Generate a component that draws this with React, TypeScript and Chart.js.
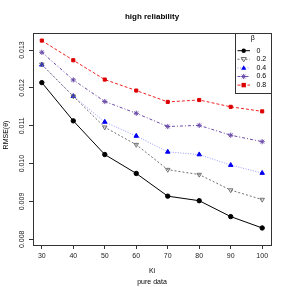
import React, { useEffect, useRef } from "react";
import { Chart, registerables } from "chart.js";

Chart.register(...registerables);

const kiValues = [30, 40, 50, 60, 70, 80, 90, 100];
const betaLabels = ["0", "0.2", "0.4", "0.6", "0.8"];
const beta0 = [0.01214, 0.01113, 0.01024, 0.00974, 0.00914, 0.00902, 0.0086, 0.0083];
const beta02 = [0.01262, 0.01178, 0.01096, 0.0105, 0.00984, 0.00971, 0.0093, 0.00905];
const beta04 = [0.01261, 0.01178, 0.0111, 0.01073, 0.01031, 0.01024, 0.00996, 0.00975];
const beta06 = [0.01294, 0.01221, 0.01164, 0.01133, 0.01098, 0.01101, 0.01075, 0.01058];
const beta08 = [0.01325, 0.01273, 0.01222, 0.01193, 0.01163, 0.01168, 0.0115, 0.01138];
const xTicks = [30, 40, 50, 60, 70, 80, 90, 100];
const yTicks = [0.008, 0.009, 0.01, 0.011, 0.012, 0.013];
const titleText = "high reliability";
const xTitle = "Ki";
const xSubTitle = "pure data";
const yTitle = "RMSE(\u03b8)";
const legendTitle = "\u03b2";

const FONT = "'Liberation Sans', Arial, Helvetica, sans-serif";

type Style = {
  color: string;
  lineColor: string;
  dash: number[];
  pointStyle: any;
  fill: boolean;
  radius: number;
  rotation?: number;
};

const styles: Style[] = [
  { color: "#000000", lineColor: "#000000", dash: [], pointStyle: "circle", fill: true, radius: 2.2 },
  { color: "#707070", lineColor: "#707070", dash: [2, 2], pointStyle: "triangle", fill: false, radius: 2.6, rotation: 180 },
  { color: "#0000ee", lineColor: "#9999ff", dash: [1, 1.5], pointStyle: "triangle", fill: true, radius: 2.6 },
  { color: "#6a4aa8", lineColor: "#6a4aa8", dash: [3, 2, 1, 2], pointStyle: "star", fill: true, radius: 2.6 },
  { color: "#dd0000", lineColor: "#ee2222", dash: [3, 2], pointStyle: "rect", fill: true, radius: 2.2 },
];

const seriesData = [beta0, beta02, beta04, beta06, beta08];

function drawMarker(ctx: CanvasRenderingContext2D, s: Style, x: number, y: number) {
  ctx.save();
  ctx.setLineDash([]);
  ctx.fillStyle = s.color;
  ctx.strokeStyle = s.color;
  ctx.lineWidth = 1;
  const r = s.radius;
  if (s.pointStyle === "circle") {
    ctx.beginPath();
    ctx.arc(x, y, r, 0, Math.PI * 2);
    ctx.fill();
  } else if (s.pointStyle === "rect") {
    ctx.fillRect(x - r, y - r, 2 * r, 2 * r);
  } else if (s.pointStyle === "triangle") {
    const dir = s.rotation === 180 ? -1 : 1;
    ctx.beginPath();
    ctx.moveTo(x, y - dir * r);
    ctx.lineTo(x + r, y + dir * r * 0.7);
    ctx.lineTo(x - r, y + dir * r * 0.7);
    ctx.closePath();
    if (s.fill) ctx.fill();
    else ctx.stroke();
  } else if (s.pointStyle === "star") {
    ctx.beginPath();
    for (let i = 0; i < 4; i++) {
      const a = (i * Math.PI) / 4;
      ctx.moveTo(x + Math.cos(a) * r, y + Math.sin(a) * r);
      ctx.lineTo(x - Math.cos(a) * r, y - Math.sin(a) * r);
    }
    ctx.stroke();
  }
  ctx.restore();
}

const decorPlugin = {
  id: "decor",
  afterDraw(chart: any) {
    const ctx: CanvasRenderingContext2D = chart.ctx;
    const a = chart.chartArea;
    const yScale = chart.scales.y;
    ctx.save();
    // box
    ctx.strokeStyle = "#333333";
    ctx.lineWidth = 1;
    ctx.strokeRect(Math.round(a.left) + 0.5, Math.round(a.top) + 0.5, Math.round(a.right - a.left), Math.round(a.bottom - a.top));
    // title
    ctx.fillStyle = "#000000";
    ctx.font = `bold 8px ${FONT}`;
    ctx.textAlign = "center";
    ctx.textBaseline = "middle";
    ctx.fillText(titleText, (a.left + a.right) / 2, 16.5);
    // x titles
    ctx.font = `7px ${FONT}`;
    ctx.fillText(xTitle, (a.left + a.right) / 2, 271);
    ctx.fillText(xSubTitle, (a.left + a.right) / 2, 282);
    // y tick labels (rotated)
    ctx.fillStyle = "#222222";
    for (const v of yTicks) {
      const py = yScale.getPixelForValue(v);
      ctx.save();
      ctx.translate(22, py);
      ctx.rotate(-Math.PI / 2);
      ctx.fillText(v.toFixed(3), 0, 0);
      ctx.restore();
    }
    // y title
    ctx.fillStyle = "#000000";
    ctx.save();
    ctx.translate(6, (a.top + a.bottom) / 2 - 4);
    ctx.rotate(-Math.PI / 2);
    ctx.fillText(yTitle, 0, 0);
    ctx.restore();
    // legend
    const lx = 235;
    const ly = a.top;
    const lw = Math.round(a.right) - lx;
    const lh = 60;
    ctx.fillStyle = "#ffffff";
    ctx.fillRect(lx, ly, lw, lh);
    ctx.strokeStyle = "#333333";
    ctx.strokeRect(lx + 0.5, Math.round(ly) + 0.5, lw, lh);
    ctx.fillStyle = "#000000";
    ctx.font = `7px ${FONT}`;
    ctx.textAlign = "center";
    ctx.fillText(legendTitle, 252.7, 38);
    betaLabels.forEach((lab, i) => {
      const y = 50.7 + i * 8.6;
      const s = styles[i];
      ctx.save();
      ctx.strokeStyle = s.lineColor;
      ctx.lineWidth = 1;
      ctx.setLineDash(s.dash);
      ctx.beginPath();
      ctx.moveTo(237.5, y);
      ctx.lineTo(250, y);
      ctx.stroke();
      ctx.restore();
      drawMarker(ctx, s, 243.7, y);
      ctx.fillStyle = "#000000";
      ctx.textAlign = "left";
      ctx.fillText(lab, 256.5, y);
    });
    ctx.restore();
  },
};

export default function App() {
  const ref = useRef<HTMLCanvasElement>(null);
  useEffect(() => {
    document.body.style.margin = "0";
    const canvas = ref.current!;
    const datasets = seriesData.map((vals, i) => {
      const s = styles[i];
      return {
        label: betaLabels[i],
        data: kiValues.map((k, j) => ({ x: k, y: vals[j] })),
        borderColor: s.lineColor,
        borderWidth: 1,
        borderDash: s.dash,
        pointStyle: s.pointStyle,
        pointRotation: s.rotation ?? 0,
        pointRadius: s.radius,
        pointBackgroundColor: s.fill ? s.color : "rgba(0,0,0,0)",
        pointBorderColor: s.color,
        pointBorderWidth: 1,
        tension: 0,
        fill: false,
      };
    });
    const chart = new Chart(canvas, {
      type: "line",
      data: { datasets: datasets as any },
      options: {
        animation: false,
        responsive: false,
        devicePixelRatio: 1,
        layout: { padding: { top: 33, right: 16, left: 0, bottom: 0 } },
        plugins: { legend: { display: false }, tooltip: { enabled: false }, title: { display: false } },
        scales: {
          x: {
            type: "linear",
            min: 27.2,
            max: 102.8,
            afterBuildTicks: (scale: any) => {
              scale.ticks = xTicks.map((v) => ({ value: v }));
            },
            afterFit: (scale: any) => {
              scale.height = 42;
            },
            grid: { drawOnChartArea: false, drawTicks: true, tickLength: 4, color: "#333333" },
            border: { display: true, color: "#333333" },
            ticks: { color: "#222222", font: { family: FONT, size: 7 }, padding: 3, maxRotation: 0, autoSkip: false },
          },
          y: {
            type: "linear",
            min: 0.00785,
            max: 0.01345,
            afterBuildTicks: (scale: any) => {
              scale.ticks = yTicks.map((v) => ({ value: v }));
            },
            afterFit: (scale: any) => {
              scale.width = 33;
            },
            grid: { drawOnChartArea: false, drawTicks: true, tickLength: 4, color: "#333333" },
            border: { display: true, color: "#333333" },
            ticks: { display: false },
          },
        },
      },
      plugins: [decorPlugin],
    });
    return () => chart.destroy();
  }, []);
  return (
    <div style={{ position: "absolute", left: 0, top: 0, width: 287, height: 287, background: "#fff" }}>
      <canvas ref={ref} width={287} height={287} style={{ width: 287, height: 287 }} />
    </div>
  );
}
